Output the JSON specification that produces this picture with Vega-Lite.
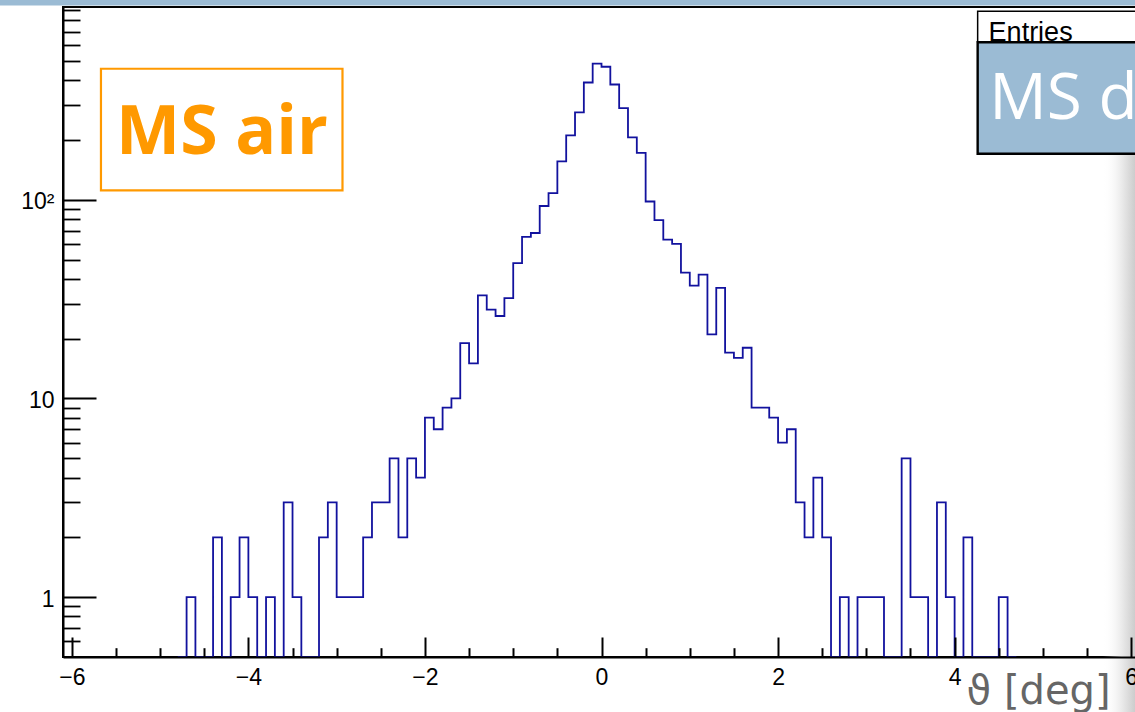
{
  "$schema": "https://vega.github.io/schema/vega-lite/v6.json",
  "width": 1077,
  "height": 650,
  "autosize": {"type": "none"},
  "padding": {"left": 63, "top": 7, "right": 0, "bottom": 55},
  "background": "white",
  "config": {
    "view": {"stroke": "black", "strokeWidth": 2},
    "axis": {"grid": false}
  },
  "datasets": {
    "hist": [
      {"theta": -4.8, "n": 0}, {"theta": -4.7, "n": 1}, {"theta": -4.6, "n": 0}, {"theta": -4.5, "n": 0},
      {"theta": -4.4, "n": 2}, {"theta": -4.3, "n": 0}, {"theta": -4.2, "n": 1}, {"theta": -4.1, "n": 2},
      {"theta": -4.0, "n": 1}, {"theta": -3.9, "n": 0}, {"theta": -3.8, "n": 1}, {"theta": -3.7, "n": 0},
      {"theta": -3.6, "n": 3}, {"theta": -3.5, "n": 1}, {"theta": -3.4, "n": 0}, {"theta": -3.3, "n": 0},
      {"theta": -3.2, "n": 2}, {"theta": -3.1, "n": 3}, {"theta": -3.0, "n": 1}, {"theta": -2.9, "n": 1},
      {"theta": -2.8, "n": 1}, {"theta": -2.7, "n": 2}, {"theta": -2.6, "n": 3}, {"theta": -2.5, "n": 3},
      {"theta": -2.4, "n": 5}, {"theta": -2.3, "n": 2}, {"theta": -2.2, "n": 5}, {"theta": -2.1, "n": 4},
      {"theta": -2.0, "n": 8}, {"theta": -1.9, "n": 7}, {"theta": -1.8, "n": 9}, {"theta": -1.7, "n": 10},
      {"theta": -1.6, "n": 19}, {"theta": -1.5, "n": 15}, {"theta": -1.4, "n": 33}, {"theta": -1.3, "n": 28},
      {"theta": -1.2, "n": 26}, {"theta": -1.1, "n": 32}, {"theta": -1.0, "n": 48}, {"theta": -0.9, "n": 65},
      {"theta": -0.8, "n": 68}, {"theta": -0.7, "n": 93}, {"theta": -0.6, "n": 108}, {"theta": -0.5, "n": 156},
      {"theta": -0.4, "n": 211}, {"theta": -0.3, "n": 275}, {"theta": -0.2, "n": 389}, {"theta": -0.1, "n": 484},
      {"theta": 0.0, "n": 467}, {"theta": 0.1, "n": 380}, {"theta": 0.2, "n": 289}, {"theta": 0.3, "n": 206},
      {"theta": 0.4, "n": 172}, {"theta": 0.5, "n": 98}, {"theta": 0.6, "n": 79}, {"theta": 0.7, "n": 63},
      {"theta": 0.8, "n": 60}, {"theta": 0.9, "n": 43}, {"theta": 1.0, "n": 37}, {"theta": 1.1, "n": 42},
      {"theta": 1.2, "n": 21}, {"theta": 1.3, "n": 36}, {"theta": 1.4, "n": 17}, {"theta": 1.5, "n": 16},
      {"theta": 1.6, "n": 18}, {"theta": 1.7, "n": 9}, {"theta": 1.8, "n": 9}, {"theta": 1.9, "n": 8},
      {"theta": 2.0, "n": 6}, {"theta": 2.1, "n": 7}, {"theta": 2.2, "n": 3}, {"theta": 2.3, "n": 2},
      {"theta": 2.4, "n": 4}, {"theta": 2.5, "n": 2}, {"theta": 2.6, "n": 0}, {"theta": 2.7, "n": 1},
      {"theta": 2.8, "n": 0}, {"theta": 2.9, "n": 1}, {"theta": 3.0, "n": 1}, {"theta": 3.1, "n": 1},
      {"theta": 3.2, "n": 0}, {"theta": 3.3, "n": 0}, {"theta": 3.4, "n": 5}, {"theta": 3.5, "n": 1},
      {"theta": 3.6, "n": 1}, {"theta": 3.7, "n": 0}, {"theta": 3.8, "n": 3}, {"theta": 3.9, "n": 1},
      {"theta": 4.0, "n": 0}, {"theta": 4.1, "n": 2}, {"theta": 4.2, "n": 0}, {"theta": 4.3, "n": 0},
      {"theta": 4.4, "n": 0}, {"theta": 4.5, "n": 1}, {"theta": 4.6, "n": 0}, {"theta": 4.7, "n": 0}
    ]
  },
  "layer": [
    {
      "encoding": {
        "x": {
          "field": "x", "type": "quantitative",
          "scale": {"domain": [-6.1, 6.1], "nice": false, "zero": false},
          "axis": {
            "orient": "bottom", "values": [-5.5, -5, -4.5, -3.5, -3, -2.5, -1.5, -1, -0.5, 0.5, 1, 1.5, 2.5, 3, 3.5, 4.5, 5, 5.5],
            "tickSize": -9.3, "tickWidth": 2, "tickColor": "black", "labels": false, "domain": false, "title": null, "zindex": 1
          }
        },
        "y": {
          "field": "y", "type": "quantitative",
          "scale": {"type": "log", "domain": [0.5, 933], "nice": false},
          "axis": {
            "orient": "left", "values": [0.6, 0.7, 0.8, 0.9, 2, 3, 4, 5, 6, 7, 8, 9, 20, 30, 40, 50, 60, 70, 80, 90, 200, 300, 400, 500, 600, 700, 800, 900],
            "tickSize": -17, "tickWidth": 1.8, "tickColor": "black", "labels": false, "domain": false, "title": null, "zindex": 1
          }
        }
      },
      "layer": [
        {
          "data": {"values": [{"x": -7, "x2": 7, "y": 950, "y2": 3000}]},
          "mark": {"type": "rect", "fill": "#9BBBD4", "strokeWidth": 0},
          "encoding": {"x2": {"field": "x2"}, "y2": {"field": "y2"}}
        },
        {
          "data": {"values": [{"x": 5.68, "x2": 6.06, "y": 0.26, "y2": 170.3}]},
          "mark": {
            "type": "rect", "strokeWidth": 0,
            "fill": {"gradient": "linear", "x1": 0, "y1": 0, "x2": 1, "y2": 0,
              "stops": [{"offset": 0, "color": "rgba(255,255,255,0)"}, {"offset": 0.55, "color": "rgba(235,235,235,1)"}, {"offset": 1, "color": "#c9c9c9"}]}
          },
          "encoding": {"x2": {"field": "x2"}, "y2": {"field": "y2"}}
        },
        {
          "data": {"values": [{"x": -5.67, "x2": -2.934, "y": 111.5, "y2": 456.3}]},
          "mark": {"type": "rect", "fill": "white", "stroke": "#FF9900", "strokeWidth": 2.2},
          "encoding": {"x2": {"field": "x2"}, "y2": {"field": "y2"}}
        },
        {
          "data": {"values": [{"x": -4.299, "y": 169.9, "label": "MS air"}]},
          "mark": {"type": "text", "font": "Open Sans", "fontWeight": 700, "fontSize": 68, "color": "#FF9900", "align": "center", "baseline": "alphabetic"},
          "encoding": {"text": {"field": "label"}}
        },
        {
          "data": {"values": [{"x": 4.261, "x2": 6.6, "y": 620.4, "y2": 888}]},
          "mark": {"type": "rect", "fill": "white", "stroke": "black", "strokeWidth": 1.5},
          "encoding": {"x2": {"field": "x2"}, "y2": {"field": "y2"}}
        },
        {
          "data": {"values": [{"x": 4.385, "y": 625.7, "label": "Entries"}]},
          "mark": {"type": "text", "font": "Liberation Sans", "fontSize": 27, "color": "black", "align": "left", "baseline": "alphabetic"},
          "encoding": {"text": {"field": "label"}}
        },
        {
          "data": {"values": [{"x": 4.261, "x2": 6.6, "y": 170.3, "y2": 620.4}]},
          "mark": {"type": "rect", "fill": "#9BBBD4", "stroke": "black", "strokeWidth": 2.4},
          "encoding": {"x2": {"field": "x2"}, "y2": {"field": "y2"}}
        },
        {
          "data": {"values": [{"x": 4.392, "y": 253.9, "label": "MS d"}]},
          "mark": {"type": "text", "font": "Open Sans", "fontWeight": 400, "fontSize": 64, "color": "white", "align": "left", "baseline": "alphabetic"},
          "encoding": {"text": {"field": "label"}}
        }
      ]
    },
    {
      "data": {"name": "hist"},
      "mark": {"type": "line", "interpolate": "step-after", "color": "#12129e", "strokeWidth": 1.8},
      "encoding": {
        "x": {
          "field": "theta", "type": "quantitative",
          "scale": {"domain": [-6.1, 6.1], "nice": false, "zero": false},
          "axis": {
            "orient": "bottom", "values": [-6, -4, -2, 0, 2, 4, 6],
            "tickSize": -20, "tickWidth": 2, "tickColor": "black",
            "domainColor": "black", "domainWidth": 2,
            "labelFont": "Liberation Sans", "labelFontSize": 23, "labelColor": "black", "labelPadding": 29,
            "labelFlush": false, "labelOverlap": false,
            "title": "ϑ [deg]", "titleFont": "DejaVu Sans", "titleFontSize": 40, "titleFontWeight": "normal",
            "titleColor": "#666666", "titleX": 1047, "titleY": 46, "titleAlign": "right", "titleBaseline": "alphabetic", "titleAnchor": null,
            "zindex": 1
          }
        },
        "y": {
          "field": "n", "type": "quantitative",
          "scale": {"type": "log", "domain": [0.5, 933], "nice": false, "clamp": true},
          "axis": {
            "orient": "left", "values": [1, 10, 100],
            "labelExpr": "datum.value >= 100 ? '10²' : datum.label",
            "tickSize": -33, "tickWidth": 2, "tickColor": "black",
            "domainColor": "black", "domainWidth": 2,
            "labelFont": "Liberation Sans", "labelFontSize": 23, "labelColor": "black", "labelPadding": 42, "labelOffset": 2,
            "title": null, "zindex": 1
          }
        }
      }
    }
  ],
  "resolve": {"scale": {"y": "independent"}, "axis": {"x": "independent", "y": "independent"}}
}
